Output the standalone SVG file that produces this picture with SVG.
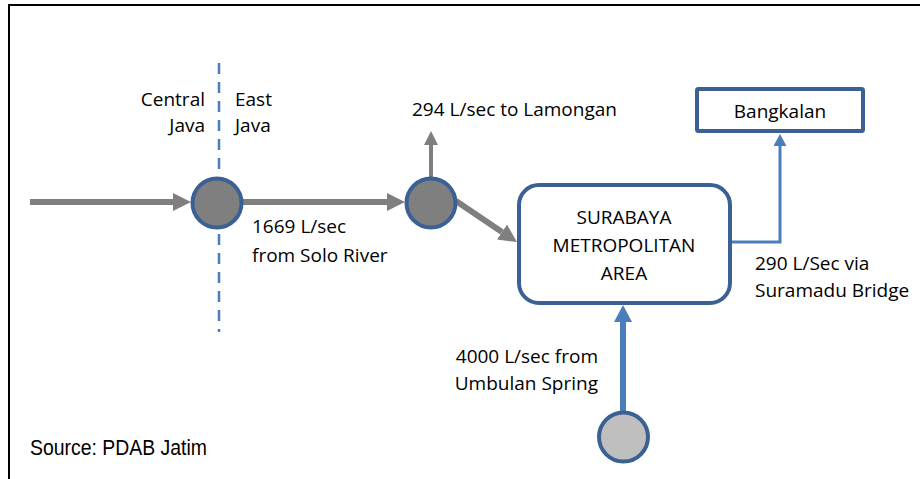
<svg xmlns="http://www.w3.org/2000/svg" width="920" height="479" viewBox="0 0 920 479">
<style>
.t{font-family:"Open Sans","Noto Sans",sans-serif;font-size:19px;fill:#000}
.node{stroke:#3b6194;stroke-width:4}
.g{stroke:#7f7f7f;fill:none}
.b{stroke:#4a7ebb;fill:none}
</style>
<defs>
<marker id="ag" markerUnits="userSpaceOnUse" markerWidth="18" markerHeight="18" refX="0" refY="9" orient="auto"><path d="M0,0L18,9L0,18z" fill="#7f7f7f"/></marker>
<marker id="agS" markerUnits="userSpaceOnUse" markerWidth="14" markerHeight="14" refX="0" refY="7" orient="auto"><path d="M0,0L14,7L0,14z" fill="#7f7f7f"/></marker>
<marker id="ab" markerUnits="userSpaceOnUse" markerWidth="18" markerHeight="18" refX="0" refY="9" orient="auto"><path d="M0,0L17,9L0,18z" fill="#4a7ebb"/></marker>
<marker id="abS" markerUnits="userSpaceOnUse" markerWidth="13" markerHeight="13" refX="0" refY="6.5" orient="auto"><path d="M0,0L12,6.5L0,13z" fill="#4a7ebb"/></marker>
</defs>
<rect width="920" height="479" fill="#fff"/>
<path d="M8,5H920M9,5V479" stroke="#000" stroke-width="2" fill="none"/>
<line x1="219" y1="63" x2="219" y2="332" stroke="#4a7ebb" stroke-width="2.5" stroke-dasharray="11 8"/>
<g id="connectors">
<line class="g" x1="30" y1="202" x2="173" y2="202" stroke-width="6" marker-end="url(#ag)"/>
<line class="g" x1="243" y1="202" x2="387" y2="202" stroke-width="6" marker-end="url(#ag)"/>
<line class="g" x1="431" y1="178" x2="431" y2="145" stroke-width="4" marker-end="url(#agS)"/>
<line class="g" x1="456" y1="201" x2="502" y2="232" stroke-width="6" marker-end="url(#ag)"/>
<polyline class="b" points="732,242 780,242 780,146" stroke-width="3" marker-end="url(#abS)"/>
<line class="b" x1="623" y1="411" x2="623" y2="322" stroke-width="6" marker-end="url(#ab)"/>
</g>
<g id="junction1"><circle class="node" cx="217" cy="203" r="24.5" fill="#7f7f7f"/></g>
<g id="junction2"><circle class="node" cx="431" cy="203" r="24.5" fill="#7f7f7f"/></g>
<g id="umbulan"><circle class="node" cx="623.5" cy="437" r="24.5" fill="#bfbfbf"/></g>
<g id="surabaya">
<rect class="node" x="519" y="185" width="211" height="118" rx="20" fill="#fff"/>
<text class="t" x="624" y="224" text-anchor="middle">SURABAYA</text>
<text class="t" x="624" y="252" text-anchor="middle">METROPOLITAN</text>
<text class="t" x="624" y="280" text-anchor="middle">AREA</text>
</g>
<g id="bangkalan">
<rect class="node" x="697" y="89" width="166" height="42" rx="1.5" fill="#fff"/>
<text class="t" x="780" y="118" text-anchor="middle">Bangkalan</text>
</g>
<g id="labels">
<text class="t" x="205" y="106" text-anchor="end">Central</text>
<text class="t" x="205" y="132" text-anchor="end">Java</text>
<text class="t" x="235" y="106">East</text>
<text class="t" x="235" y="132">Java</text>
<text class="t" x="412" y="116">294 L/sec to Lamongan</text>
<text class="t" x="252" y="233">1669 L/sec</text>
<text class="t" x="252" y="262">from Solo River</text>
<text class="t" x="755" y="270">290 L/Sec via</text>
<text class="t" x="755" y="297">Suramadu Bridge</text>
<text class="t" x="598" y="363" text-anchor="end">4000 L/sec from</text>
<text class="t" x="598" y="390" text-anchor="end">Umbulan Spring</text>
<text x="30" y="455" font-family="'Liberation Sans Narrow','Liberation Sans',sans-serif" font-size="22" textLength="177" lengthAdjust="spacingAndGlyphs">Source: PDAB Jatim</text>
</g>
</svg>
